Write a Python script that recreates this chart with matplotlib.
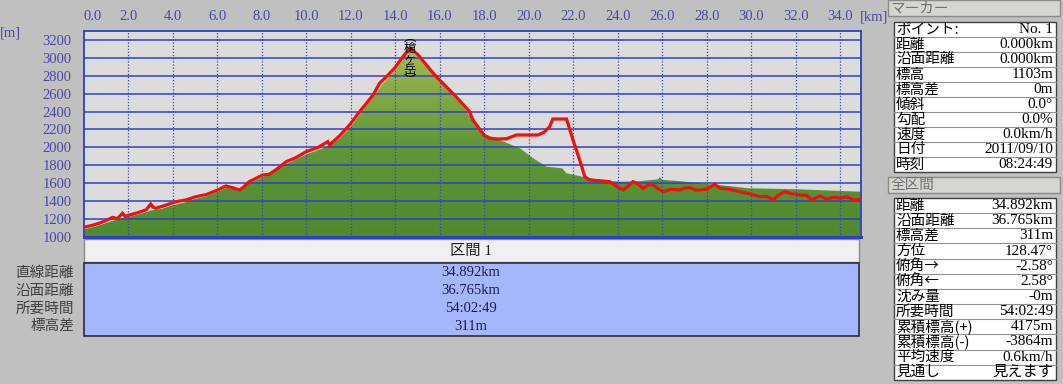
import numpy as np
import matplotlib.pyplot as plt
from matplotlib.colors import LinearSegmentedColormap
from matplotlib.patches import Rectangle

# 地形断面 (km, m)
terrain_km = [0.0, 0.5, 1.0, 1.5, 2.0, 2.5, 3.0, 3.5, 4.0, 4.5, 5.0, 5.5, 6.0, 6.4, 6.8, 7.0,
              7.4, 8.0, 8.5, 9.0, 9.5, 10.0, 10.5, 11.0, 11.5, 12.0, 12.5, 13.0, 13.5, 14.0,
              14.6, 15.0, 15.5, 16.0, 16.5, 17.0, 17.5, 18.0, 18.7, 19.6, 20.2, 20.8, 21.5,
              21.7, 22.4, 23.2, 24.1, 25.0, 25.8, 25.9, 26.0, 26.8, 27.7, 28.8, 29.9, 31.0,
              32.2, 33.5, 34.94]
terrain_m = [1080, 1110, 1150, 1190, 1220, 1250, 1290, 1310, 1350, 1380, 1420, 1450, 1500, 1545,
             1530, 1510, 1590, 1660, 1720, 1800, 1860, 1920, 1965, 2010, 2100, 2230, 2400, 2560,
             2730, 2860, 3090, 3010, 2880, 2740, 2600, 2470, 2300, 2150, 2080, 1988, 1876, 1782,
             1764, 1708, 1670, 1633, 1614, 1620, 1640, 1665, 1635, 1620, 1596, 1570, 1540, 1535,
             1528, 1515, 1502]

# GPSトラック (km, m)
track_km = [0.0, 0.3, 0.7, 1.0, 1.28, 1.5, 1.73, 1.85, 2.03, 2.4, 2.8, 3.0, 3.1, 3.23, 3.6,
            4.13, 4.6, 5.03, 5.5, 6.0, 6.38, 6.7, 7.0, 7.2, 7.43, 8.03, 8.33, 8.78, 9.09, 9.5,
            9.99, 10.5, 10.96, 11.04, 11.5, 11.94, 12.4, 13.0, 13.29, 13.6, 13.96, 14.3, 14.64,
            15.0, 15.4, 15.84, 16.2, 16.51, 16.9, 17.34, 17.49, 17.8, 18.0, 18.24, 18.61, 19.0,
            19.44, 20.41, 20.7, 20.94, 21.08, 21.7, 21.99, 22.3, 22.52, 22.74, 23.19, 23.64,
            23.9, 24.24, 24.45, 24.69, 24.9, 25.14, 25.4, 25.59, 25.8, 26.04, 26.4, 26.79, 27.0,
            27.24, 27.5, 27.69, 28.0, 28.37, 28.59, 29.0, 29.49, 29.9, 30.39, 30.7, 30.99, 31.2,
            31.52, 31.8, 32.2, 32.5, 32.72, 33.08, 33.4, 33.7, 34.0, 34.3, 34.6, 34.89]
track_m = [1105, 1120, 1150, 1180, 1215, 1200, 1260, 1225, 1240, 1265, 1300, 1364, 1330, 1316,
           1345, 1390, 1410, 1446, 1470, 1520, 1566, 1545, 1521, 1560, 1614, 1689, 1696, 1775,
           1838, 1880, 1950, 1995, 2062, 2025, 2130, 2249, 2400, 2585, 2716, 2790, 2884, 3000,
           3108, 3040, 2920, 2790, 2700, 2622, 2520, 2398, 2305, 2200, 2130, 2100, 2092, 2095,
           2137, 2137, 2170, 2230, 2316, 2316, 2081, 1850, 1670, 1633, 1625, 1614, 1570, 1521,
           1560, 1614, 1590, 1540, 1580, 1577, 1540, 1502, 1530, 1521, 1540, 1547, 1520, 1521,
           1530, 1585, 1540, 1530, 1502, 1480, 1446, 1450, 1409, 1460, 1502, 1480, 1465, 1460,
           1409, 1454, 1420, 1439, 1430, 1446, 1409, 1420]

x_ticks = np.arange(0, 35, 2)
y_ticks = np.arange(1000, 3201, 200)

peak_name = "槍ヶ岳"
peak_km = 14.64

section_title = "区間 1"
section_labels = ["直線距離", "沿面距離", "所要時間", "標高差"]
section_values = ["34.892km", "36.765km", "54:02:49", "311m"]

marker_title = "マーカー"
marker_labels = ["ポイント:", "距離", "沿面距離", "標高", "標高差", "傾斜", "勾配", "速度", "日付", "時刻"]
marker_values = ["No. 1", "0.000km", "0.000km", "1103m", "0m", "0.0°", "0.0%", "0.0km/h",
                 "2011/09/10", "08:24:49"]
total_title = "全区間"
total_labels = ["距離", "沿面距離", "標高差", "方位", "俯角→", "俯角←", "沈み量", "所要時間",
                "累積標高(+)", "累積標高(-)", "平均速度", "見通し"]
total_values = ["34.892km", "36.765km", "311m", "128.47°", "-2.58°", "2.58°", "-0m", "54:02:49",
                "4175m", "-3864m", "0.6km/h", "見えます"]

JP = ["Noto Sans CJK JP"]
NUM = ["Liberation Serif", "Noto Sans CJK JP"]
BLUE = "#3040c4"
TICKC = "#4848a8"

W, H = 1063, 384
fig = plt.figure(figsize=(W / 100, H / 100), dpi=100, facecolor="#c0c0c0")

# 背景 (ピクセル座標)
bg = fig.add_axes([0, 0, 1, 1], zorder=0)
bg.set_xlim(0, W)
bg.set_ylim(H, 0)
bg.axis("off")

# 断面図
ax = fig.add_axes([84 / W, (H - 236.5) / H, 777 / W, 205.5 / H], zorder=1)
ax.set_facecolor("#dcdcdc")
xmax = 34.94

outline, = ax.fill([0] + terrain_km + [terrain_km[-1]], [1000] + terrain_m + [1000],
                   facecolor="none", edgecolor="none")
cmap = LinearSegmentedColormap.from_list("terrain", ["#4e8a2e", "#62983a", "#a8bc52"])
grad = np.linspace(0, 1, 256).reshape(-1, 1)
im = ax.imshow(grad, extent=[0, xmax, 1000, 3150], origin="lower", cmap=cmap,
               aspect="auto", zorder=1, interpolation="bilinear")
im.set_clip_path(outline)

for y in y_ticks[1:]:
    ax.axhline(y, color=BLUE, lw=1.1, zorder=2)
for x in x_ticks[1:]:
    ax.axvline(x, color="#3848b0", lw=0.9, ls=(0, (1, 1.5)), zorder=2)

ax.plot(track_km, track_m, color="#ee1111", lw=2.3, zorder=3, solid_joinstyle="miter")

ax.text(peak_km, 3300, "\n".join("︵" + peak_name + "︶"), ha="center", va="top",
        fontsize=9, linespacing=0.78, family=JP, color="black", zorder=4)

ax.set_xlim(0, xmax)
ax.set_ylim(1000, 3302)
ax.xaxis.tick_top()
ax.set_xticks(x_ticks, labels=[f"{v:.1f}" for v in x_ticks])
ax.set_yticks(y_ticks, labels=[str(v) for v in y_ticks])
ax.tick_params(length=0, labelsize=10.5, labelcolor=TICKC)
ax.tick_params(axis="x", pad=6)
ax.tick_params(axis="y", pad=9)
for lab in ax.get_xticklabels() + ax.get_yticklabels():
    lab.set_family(NUM)
ax.get_xticklabels()[0].set_horizontalalignment("left")
for s in ax.spines.values():
    s.set_color(BLUE)
    s.set_linewidth(1.3)
ax.spines["bottom"].set_linewidth(2.2)

bg.text(10, 33, "[m]", ha="center", va="center", fontsize=10.5, color=TICKC, family=NUM)
bg.text(874, 17, "[km]", ha="center", va="center", fontsize=10.5, color=TICKC, family=NUM)

# 区間テーブル
bg.add_patch(Rectangle((84, 239), 775, 23, fc="#f0f0f0", ec="#8c8c8c", lw=1))
bg.text(471, 251, section_title, ha="center", va="center", fontsize=11, family=NUM, color="#202020")
bg.add_patch(Rectangle((84, 263), 775, 73, fc="#a5b7fc", ec="#2a2a44", lw=1.2))
for i, (lab, val) in enumerate(zip(section_labels, section_values)):
    yy = 273 + i * 17.7
    bg.text(74, yy, lab, ha="right", va="center", fontsize=10.5, family=JP, color="#404040")
    bg.text(471, yy, val, ha="center", va="center", fontsize=10.5, family=NUM, color="#1c1c50")


# 右パネル
def panel(title, y0, labels, values, top, rowh):
    bg.add_patch(Rectangle((888, y0), 172, 16, fc="#d8d5d0", ec="#8a8a8a", lw=1))
    bg.text(890, y0 + 8, title, ha="left", va="center", fontsize=10.5, family=JP, color="#707070")
    n = len(labels)
    bg.add_patch(Rectangle((894, top), 162, rowh * n, fc="white", ec="#404040", lw=1))
    for i, (lab, val) in enumerate(zip(labels, values)):
        yy = top + rowh * i
        if i > 0:
            bg.plot([894, 1056], [yy, yy], color="#909090", lw=0.8)
        bg.text(896, yy + rowh / 2, lab, ha="left", va="center", fontsize=10.5, family=JP, color="black")
        bg.text(1053, yy + rowh / 2, val, ha="right", va="center", fontsize=11, family=NUM,
                color="black")


panel(marker_title, 0, marker_labels, marker_values, 22, 15.0)
panel(total_title, 177, total_labels, total_values, 198, 15.15)

fig.savefig("out.png", dpi=100, facecolor=fig.get_facecolor())
